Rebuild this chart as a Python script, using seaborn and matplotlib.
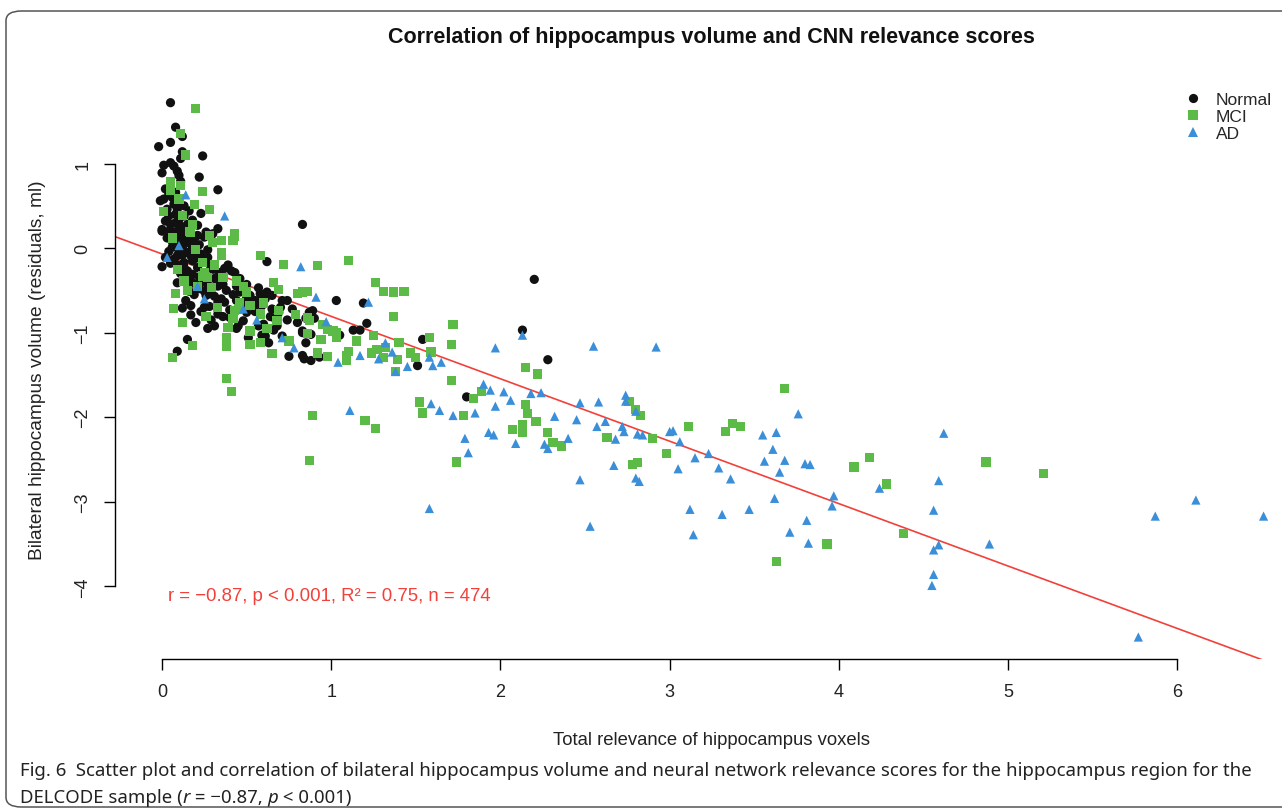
import matplotlib
matplotlib.use("Agg")
import matplotlib.pyplot as plt
import pandas as pd
import seaborn as sns
from matplotlib.patches import FancyBboxPatch

# Total relevance (x) and bilateral hippocampus volume residuals (y) per diagnostic group
normal_x = [0.05, 0.08, 0.12, -0.02, 0.05, 0.12, 0.24, 0.11, 0.01, 0.05, 0.07, 0.00, 0.09, 0.10, 0.22,
            0.05, 0.11, 0.33, -0.01, 0.01, 0.06, 0.07, 0.03, 0.09, 0.08, 0.23, 0.13, 0.02, 0.05, 0.08,
            0.11, 0.13, 0.15, 0.00, 0.33, 0.26, 0.04, 0.09,
            0.00, 0.07, 0.11, 0.13, 0.16, 0.21, 0.25, 0.30, 0.08, 0.13, 0.17, 0.18, 0.06, 0.10, 0.15,
            0.17, 0.20, 0.23, 0.27, 0.02, 0.07, 0.13, 0.18, 0.00, 0.13, 0.15, 0.21, 0.28, 0.30, 0.39,
            0.41, 0.34, 0.43, 0.62, 0.16, 0.18, 0.24, 0.26, 0.17, 0.09, 0.18, 0.20, 0.27, 0.36, 0.44,
            0.50, 0.57, 0.16, 0.25, 0.28, 0.62, 0.26, 0.28, 0.50, 0.52, 0.58, 0.65, 0.71, 0.74, 0.33,
            0.37, 0.17, 0.12, 0.25, 0.28, 0.40, 0.49, 0.51, 0.53, 0.55, 0.59, 0.65, 0.69, 0.50, 0.17,
            0.36, 0.64, 0.67, 0.29, 0.45, 0.44, 0.27, 0.60, 0.68, 0.74, 0.51, 0.59, 0.61, 0.63, 0.71,
            0.15, 0.09, 0.75,
            1.03, 1.19, 0.89, 0.87, 0.85, 0.90, 1.21, 0.83, 0.83, 0.88, 1.05, 1.13, 1.17, 0.85, 0.83,
            0.84, 0.88, 0.93, 1.54, 1.51, 0.83, 2.13, 2.28, 1.80, 2.20,
            0.02, 0.04, 0.08, 0.10, 0.13, 0.16, 0.04, 0.10, 0.18, 0.21,
            0.03, 0.06, 0.10, 0.12, 0.15, 0.19, 0.22, 0.04, 0.09, 0.12,
            0.20, 0.24, 0.05, 0.09, 0.11, 0.14, 0.22, 0.25, 0.31, 0.33,
            0.38, 0.42, 0.46, 0.22, 0.19, 0.31, 0.35, 0.44, 0.48, 0.56,
            0.61, 0.55, 0.40, 0.33, 0.23, 0.14, 0.20, 0.31, 0.48, 0.57,
            0.66, 0.70, 0.77, 0.80, 0.46, 0.37, 0.27]
normal_y = [1.72, 1.43, 1.32, 1.20, 1.25, 1.14, 1.09, 1.06, 0.98, 1.01, 0.97, 0.89, 0.91, 0.86, 0.84,
            0.78, 0.79, 0.69, 0.56, 0.58, 0.60, 0.52, 0.46, 0.46, 0.40, 0.41, 0.38, 0.32, 0.28, 0.30,
            0.26, 0.24, 0.28, 0.22, 0.23, 0.19, 0.20, 0.20,
            0.20, 0.19, 0.17, 0.13, 0.19, 0.15, 0.13, 0.17, 0.07, 0.05, 0.05, 0.01, 0.01, -0.05, -0.05,
            -0.09, -0.07, -0.07, -0.11, -0.11, -0.13, -0.17, -0.15, -0.22, -0.23, -0.27, -0.23, -0.19, -0.25, -0.20,
            -0.27, -0.29, -0.29, -0.16, -0.33, -0.31, -0.29, -0.35, -0.39, -0.41, -0.41, -0.43, -0.43, -0.43, -0.45,
            -0.43, -0.47, -0.51, -0.51, -0.49, -0.52, -0.56, -0.54, -0.58, -0.56, -0.54, -0.56, -0.62, -0.62, -0.64,
            -0.64, -0.68, -0.71, -0.70, -0.69, -0.73, -0.64, -0.68, -0.64, -0.62, -0.68, -0.72, -0.76, -0.76, -0.79,
            -0.81, -0.81, -0.84, -0.85, -0.92, -0.95, -0.95, -0.90, -0.92, -0.85, -1.06, -1.03, -1.04, -1.12, -1.04,
            -1.08, -1.22, -1.28,
            -0.62, -0.65, -0.74, -0.76, -0.83, -0.83, -0.89, -0.98, -1.00, -1.02, -1.03, -0.97, -0.97, -1.12, -1.27,
            -1.31, -1.33, -1.29, -1.08, -1.39, 0.28, -0.97, -1.32, -1.76, -0.37,
            0.70, 0.64, 0.66, 0.55, 0.50, 0.44, 0.38, 0.34, 0.33, 0.27,
            0.12, 0.08, 0.10, 0.02, 0.09, 0.11, 0.04, -0.04, -0.09, -0.08,
            -0.12, -0.16, -0.18, -0.20, -0.30, -0.36, -0.34, -0.40, -0.36, -0.45,
            -0.50, -0.55, -0.52, -0.48, -0.55, -0.57, -0.60, -0.62, -0.70, -0.66,
            -0.60, -0.75, -0.82, -0.78, -0.75, -0.62, -0.88, -0.92, -0.86, -0.92,
            -0.97, -0.70, -0.72, -0.88, -0.36, -0.24, -0.02]

mci_x = [0.20, 0.11, 0.14, 0.05, 0.05, 0.11, 0.24, 0.28, 0.01, 0.12, 0.18, 0.16, 0.43,
         0.17, 0.28, 0.30, 0.35, 0.42, 0.43, 0.35, 0.35, 0.58, 0.72, 0.24, 0.09, 0.25, 0.24, 0.27,
         0.13, 0.21, 0.29, 0.44, 0.66, 0.69, 0.08, 0.50, 0.80, 0.46, 0.07, 0.52, 0.43, 0.45, 0.58,
         0.69, 0.79, 0.26, 0.42, 0.39, 0.68, 0.52, 0.52, 0.58, 0.38, 0.38, 0.18, 0.06, 0.65, 0.38,
         0.92, 1.10, 0.83, 0.86, 1.26, 1.31, 1.37, 1.43, 1.37, 0.86, 0.87, 0.98, 1.01, 1.03, 0.86,
         0.94, 1.03, 1.25, 1.40, 1.58, 1.72, 1.71, 1.10, 1.09, 1.09, 0.92, 0.98, 1.24, 1.27, 1.31,
         1.32, 1.39, 1.47, 1.50, 1.59, 1.38,
         1.71, 2.15, 2.22, 1.84, 1.89, 1.78, 2.15, 2.16, 2.21, 2.13, 2.07, 2.13, 2.28, 2.31, 2.36,
         1.74, 2.76, 2.80, 2.83, 3.11, 2.63, 2.90, 2.98, 2.78, 2.81,
         3.68, 3.37, 3.42, 3.33, 4.18, 4.09, 4.28, 4.87, 4.38, 3.93, 3.63, 5.21,
         0.41, 0.89, 0.87, 1.20, 1.26, 1.52, 1.54,
         0.10, 0.19, 0.06, 0.20, 0.31, 0.15, 0.36, 0.48, 0.60, 0.33, 0.12, 0.62, 0.75, 1.15, 0.95]
mci_y = [1.65, 1.36, 1.10, 0.79, 0.68, 0.74, 0.67, 0.46, 0.43, 0.39, 0.28, 0.20, 0.17,
         0.19, 0.15, 0.07, 0.09, 0.09, 0.14, -0.05, -0.09, -0.09, -0.19, -0.17, -0.25, -0.29, -0.33, -0.35,
         -0.39, -0.45, -0.47, -0.39, -0.41, -0.49, -0.54, -0.52, -0.54, -0.64, -0.71, -0.68, -0.74, -0.72, -0.78,
         -0.74, -0.79, -0.81, -0.83, -0.94, -0.86, -0.98, -1.14, -1.12, -1.06, -1.16, -1.15, -1.29, -1.25, -1.54,
         -0.21, -0.15, -0.52, -0.51, -0.41, -0.51, -0.52, -0.51, -0.81, -0.82, -0.86, -0.96, -0.98, -1.00, -1.01,
         -1.08, -1.06, -1.03, -1.12, -1.06, -0.90, -1.14, -1.22, -1.27, -1.33, -1.24, -1.28, -1.24, -1.20, -1.29,
         -1.18, -1.32, -1.24, -1.29, -1.23, -1.46,
         -1.57, -1.41, -1.49, -1.78, -1.70, -1.98, -1.85, -1.96, -2.05, -2.09, -2.15, -2.18, -2.18, -2.30, -2.34,
         -2.53, -1.81, -1.91, -1.98, -2.11, -2.24, -2.25, -2.43, -2.56, -2.54,
         -1.66, -2.07, -2.11, -2.17, -2.48, -2.59, -2.79, -2.53, -3.38, -3.50, -3.71, -2.67,
         -1.70, -1.98, -2.51, -2.04, -2.13, -1.82, -1.95,
         0.58, 0.52, 0.12, -0.02, -0.20, -0.50, -0.35, -0.45, -0.65, -0.70, -0.88, -0.95, -1.10, -1.10, -0.90]

ad_x = [0.14, 0.37, 0.03, 0.21, 0.48, 0.71, 0.82,
        0.91, 1.22, 0.97, 1.32, 1.36, 1.17, 1.04, 1.58, 1.60, 1.65, 1.38,
        2.13, 1.97, 2.55, 2.92, 1.90, 1.94, 2.02, 2.18, 2.24, 2.06, 1.97, 1.72, 2.32, 2.47, 2.58,
        2.74, 2.74, 2.80, 2.45, 2.57, 2.72, 2.73, 2.81, 2.84, 1.93, 1.96, 1.79, 2.09, 2.26, 2.28,
        2.68, 3.00, 3.02, 3.06, 1.81, 2.67, 3.15, 3.23, 3.29, 3.05, 2.47, 2.80, 2.82, 3.12, 2.53,
        3.76, 3.55, 3.63, 4.62, 3.61, 3.56, 3.68, 3.80, 3.83, 3.65, 3.36, 4.59, 4.24, 3.62, 3.97,
        3.96, 3.31, 3.47, 4.56, 3.81, 3.71, 3.82, 4.59, 4.56, 4.89, 4.56, 4.55,
        5.87, 6.11, 6.51, 5.77, 1.11, 1.58, 3.14, 1.59, 1.64,
        0.10, 0.25, 0.56, 0.78, 1.28, 1.45, 1.85, 2.40, 2.62]
ad_y = [0.63, 0.38, -0.11, -0.45, -0.72, -1.06, -0.22,
        -0.58, -0.64, -0.87, -1.12, -1.23, -1.27, -1.35, -1.29, -1.39, -1.35, -1.46,
        -1.03, -1.18, -1.16, -1.17, -1.61, -1.68, -1.70, -1.72, -1.71, -1.80, -1.87, -1.98, -1.99, -1.83, -1.82,
        -1.74, -1.81, -1.93, -2.03, -2.11, -2.11, -2.17, -2.20, -2.21, -2.18, -2.21, -2.25, -2.31, -2.32, -2.37,
        -2.26, -2.17, -2.16, -2.29, -2.42, -2.57, -2.48, -2.43, -2.60, -2.61, -2.74, -2.72, -2.76, -3.09, -3.29,
        -1.96, -2.21, -2.18, -2.19, -2.38, -2.52, -2.51, -2.55, -2.56, -2.65, -2.73, -2.75, -2.84, -2.96, -2.93,
        -3.05, -3.15, -3.09, -3.10, -3.22, -3.36, -3.49, -3.51, -3.57, -3.50, -3.86, -3.99,
        -3.17, -2.98, -3.17, -4.60, -1.92, -3.08, -3.39, -1.84, -1.92,
        0.03, -0.60, -0.85, -1.18, -1.31, -1.40, -1.95, -2.25, -2.05]

groups = ["Normal", "MCI", "AD"]
group_colors = {"Normal": "#111111", "MCI": "#5cba47", "AD": "#3a8fd8"}
group_markers = {"Normal": "o", "MCI": "s", "AD": "^"}
x_ticks = [0, 1, 2, 3, 4, 5, 6]
y_ticks = [-4, -3, -2, -1, 0, 1]

df = pd.concat([
    pd.DataFrame({"relevance": normal_x, "volume": normal_y, "group": "Normal"}),
    pd.DataFrame({"relevance": mci_x, "volume": mci_y, "group": "MCI"}),
    pd.DataFrame({"relevance": ad_x, "volume": ad_y, "group": "AD"}),
], ignore_index=True)

sns.set_theme(style="ticks")
plt.rcParams["font.family"] = ["Liberation Sans", "DejaVu Sans"]

W, H = 1282, 812
fig = plt.figure(figsize=(W / 100, H / 100), dpi=100)
ax = fig.add_axes([115 / W, 1 - 660 / H, 1 - 115 / W, (660 - 80) / H])
ax.set_xlim(-0.278, 6.619)
ax.set_ylim(-4.86, 2.0)

sns.scatterplot(data=df, x="relevance", y="volume", hue="group", style="group",
                hue_order=groups, style_order=groups, palette=group_colors,
                markers=group_markers, s=44, linewidth=0, ax=ax, legend=True, zorder=3)

# least-squares line across the full plotting region
sns.regplot(data=df, x="relevance", y="volume", scatter=False, ci=None, truncate=False,
            color="#f2403a", line_kws={"lw": 1.2, "zorder": 2}, ax=ax)
ax.set_xlim(-0.278, 6.619)
ax.set_ylim(-4.86, 2.0)

# R-style detached axes
for side in ["top", "right"]:
    ax.spines[side].set_visible(False)
ax.spines["left"].set_bounds(y_ticks[0], y_ticks[-1])
ax.spines["bottom"].set_bounds(x_ticks[0], x_ticks[-1])
for side in ["left", "bottom"]:
    ax.spines[side].set_color("black")
    ax.spines[side].set_linewidth(1.0)
ax.set_xticks(x_ticks)
ax.set_yticks(y_ticks)
ax.tick_params(axis="both", length=8, width=1.0, color="black", pad=9,
               labelsize=13, labelcolor="#222222")
ax.tick_params(axis="y", labelrotation=90)
for lab in ax.get_yticklabels():
    lab.set_va("center")

ax.set_xlabel("Total relevance of hippocampus voxels", fontsize=13.3, color="#222222")
ax.set_ylabel("Bilateral hippocampus volume (residuals, ml)", fontsize=13.8, color="#222222")
ax.xaxis.set_label_coords(0.511, -0.124)
ax.yaxis.set_label_coords(-0.059, 0.5)

handles, labels = ax.get_legend_handles_labels()
order = [labels.index(g) for g in groups]
ax.legend([handles[i] for i in order], groups, loc="upper left",
          bbox_to_anchor=(1184 / W, 1 - 93 / H), bbox_transform=fig.transFigure,
          frameon=False, fontsize=12.5, handlelength=1.0, handletextpad=0.84,
          labelspacing=0.1, borderpad=0, borderaxespad=0, markerscale=1.0)

ax.text(0.035, -4.11, "r = \u22120.87, p < 0.001, R\u00b2 = 0.75, n = 474",
        color="#f2403a", fontsize=13.4, ha="left", va="center")

fig.text(711 / W, 1 - 38 / H, "Correlation of hippocampus volume and CNN relevance scores",
         ha="center", va="center", fontsize=15.5, fontweight="bold", color="#111111")

# figure caption built from consecutive text pieces
cap_font = ["Noto Sans", "DejaVu Sans"]
def chain(pieces, x_px, bottom_px):
    prev = None
    for txt, style, weight in pieces:
        kw = dict(fontsize=13.4, family=cap_font, fontstyle=style, fontweight=weight,
                  color="#222222", va="bottom", ha="left")
        if prev is None:
            prev = fig.text(x_px / W, 1 - bottom_px / H, txt, **kw)
        else:
            prev = ax.annotate(txt, xy=(1, 0), xycoords=prev, xytext=(0, 0),
                               textcoords="offset points", annotation_clip=False, **kw)
    return prev

chain([("Fig. 6", "normal", "bold"),
       ("  Scatter plot and correlation of bilateral hippocampus volume and neural network "
        "relevance scores for the hippocampus region for the", "normal", "normal")], 20, 780)
chain([("DELCODE sample (", "normal", "normal"), ("r", "italic", "normal"),
       (" = \u22120.87, ", "normal", "normal"), ("p", "italic", "normal"),
       (" < 0.001)", "normal", "normal")], 20, 807)

frame = FancyBboxPatch((6 / W, 4 / H), 1.2, (H - 12 - 4) / H,
                       boxstyle="round,pad=0,rounding_size=0.012",
                       transform=fig.transFigure, fill=False, ec="#555555", lw=1.1,
                       clip_on=False)
fig.patches.append(frame)

fig.savefig("out.png", dpi=100)
